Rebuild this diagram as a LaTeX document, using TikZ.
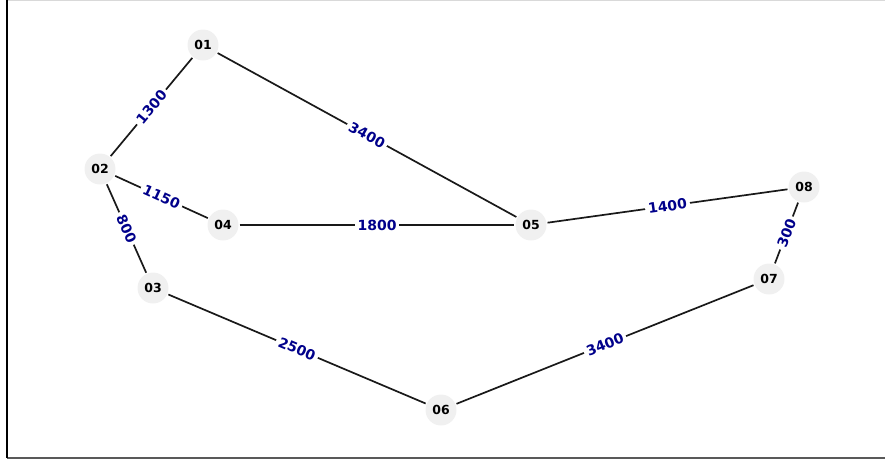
\documentclass[tikz,border=0pt]{standalone}
\usepackage{fontspec}
\setmainfont{DejaVu Sans}
\usepackage{tikz}
\definecolor{distblue}{RGB}{0,0,139}

\begin{document}
\begin{tikzpicture}[x=1pt,y=-1pt,city/.style={circle,fill=black!6,minimum size=31pt,inner sep=0pt,font=\fontsize{12.5}{14}\bfseries\selectfont},road/.style={line width=1.7pt,black!90,shorten <=1pt,shorten >=1pt},dist/.style={midway,sloped,fill=white,inner sep=3pt,text=distblue,font=\fontsize{14}{16}\bfseries\selectfont}]
\useasboundingbox (0,0) rectangle (885,461);
% frame
\draw[black!15,line width=1pt] (7,0.5)--(885,0.5);
\draw[black!65,line width=1.5pt] (7,458)--(885,458);
\draw[black,line width=1.2pt] (7,0)--(7,458);
% cities
\node[city] (c01) at (203,45) {01};
\node[city] (c02) at (100,169) {02};
\node[city] (c03) at (153,288) {03};
\node[city] (c04) at (223,225) {04};
\node[city] (c05) at (531,225) {05};
\node[city] (c06) at (441,410) {06};
\node[city] (c07) at (769,279) {07};
\node[city] (c08) at (804,187) {08};
% roads
\draw[road] (c02)--node[dist]{1300} (c01);
\draw[road] (c01)--node[dist]{3400} (c05);
\draw[road] (c02)--node[dist]{1150} (c04);
\draw[road] (c02)--node[dist]{800} (c03);
\draw[road] (c04)--node[dist]{1800} (c05);
\draw[road] (c05)--node[dist]{1400} (c08);
\draw[road] (c07)--node[dist]{300} (c08);
\draw[road] (c03)--node[dist]{2500} (c06);
\draw[road] (c06)--node[dist]{3400} (c07);
\end{tikzpicture}
\end{document}
